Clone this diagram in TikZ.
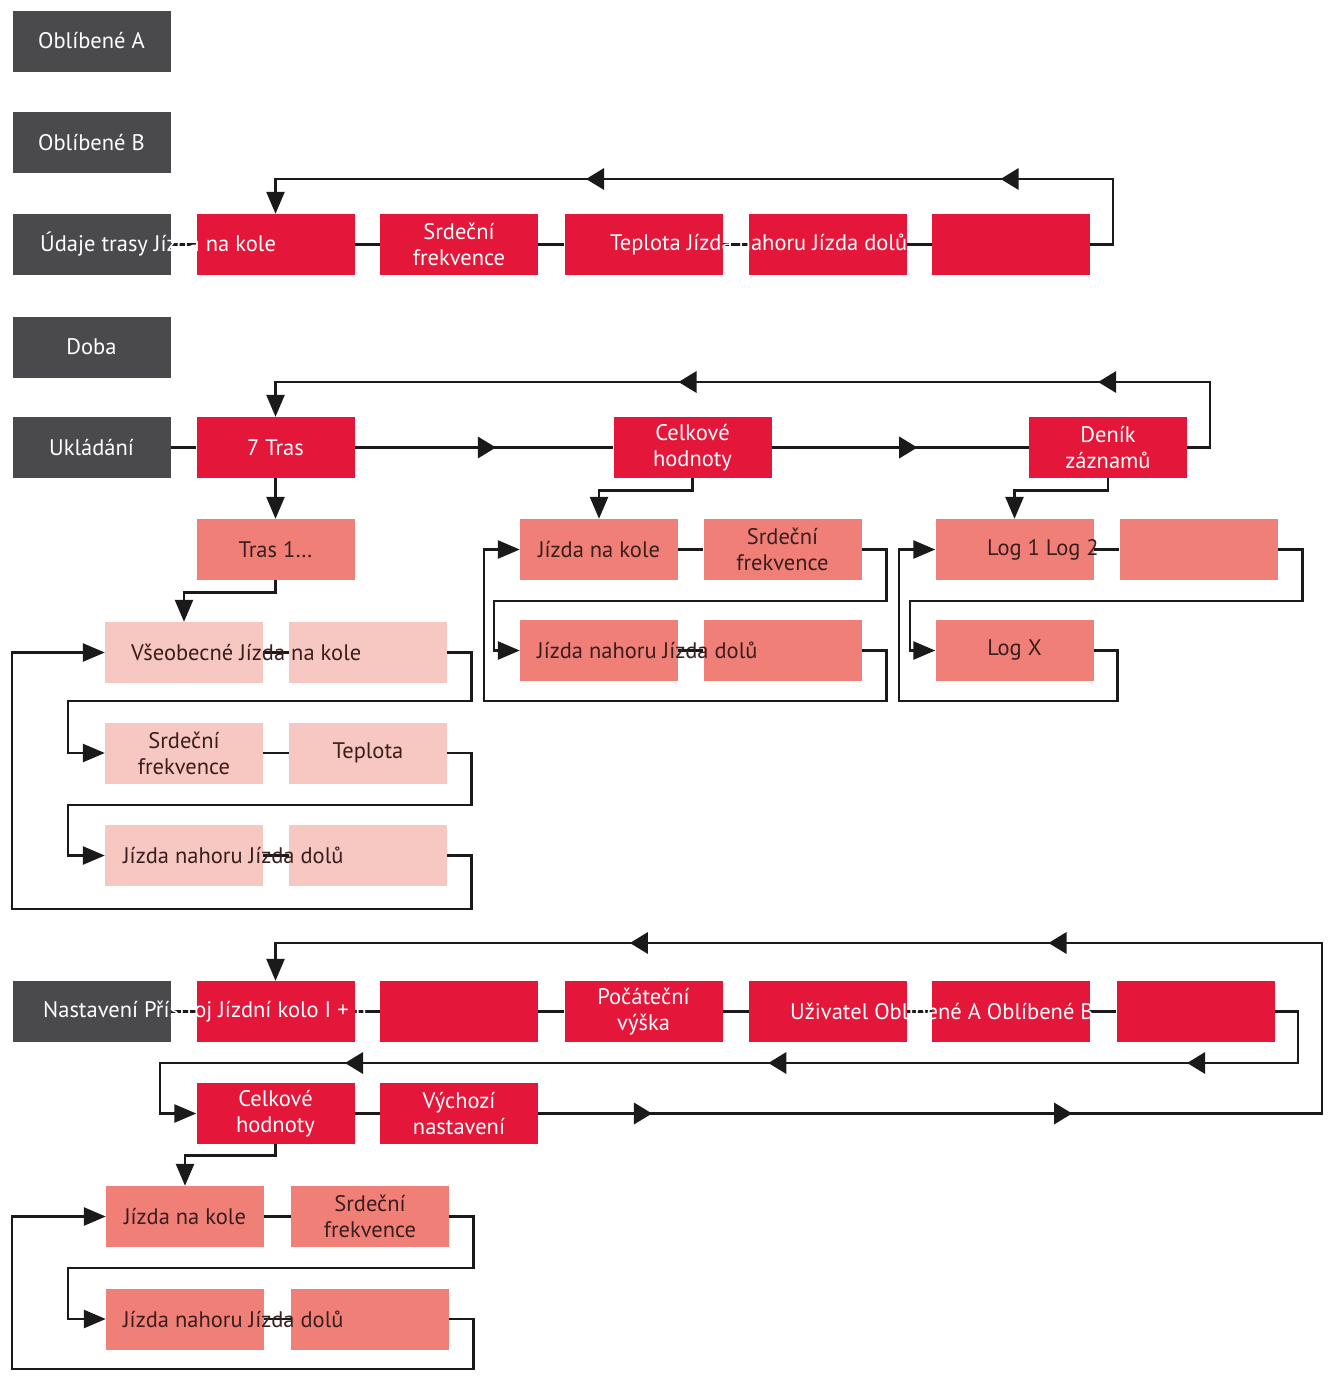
\documentclass[tikz,border=0pt]{standalone}
\usepackage{fontspec}
\setmainfont{PT Sans}
\usetikzlibrary{arrows.meta,shapes.geometric}
\definecolor{dk}{HTML}{4A4A4C}
\definecolor{rd}{HTML}{E4163A}
\definecolor{sal}{HTML}{EF7F77}
\definecolor{pk}{HTML}{F7C7C1}
\definecolor{txt}{HTML}{3A1E1E}
\definecolor{ln}{HTML}{1A1A1A}
\begin{document}
\begin{tikzpicture}[x=1pt,y=-1pt, font=\fontsize{22.5}{26}\selectfont,
 box/.style={minimum width=158pt, minimum height=61pt, inner sep=0pt, align=center},
 gbox/.style={box, fill=dk, text=white},
 rbox/.style={box, fill=rd, text=white},
 sbox/.style={box, fill=sal, text=txt},
 pbox/.style={box, fill=pk, text=txt},
 conn/.style={line width=2.6pt, draw=ln},
 tipend/.style={-{Triangle[length=22pt,width=18pt]}},
 fwd/.style={isosceles triangle, isosceles triangle stretches, fill=ln, inner sep=0pt, minimum width=22pt, minimum height=18pt, sloped, allow upside down, shape border rotate=0},
 over/.style={anchor=west, inner sep=0pt},
]
\useasboundingbox (0,0) rectangle (1331,1379);
\fill[white] (0,0) rectangle (1331,1379);

% gray column
\node[gbox] (ga) at (91.5,41) {Oblíbené A};
\node[gbox] (gb) at (91.5,142.5) {Oblíbené B};
\node[gbox] (gu) at (91.5,244.5) {};
\node[gbox] (gd) at (91.5,347) {Doba};
\node[gbox] (gk) at (91.5,447.5) {Ukládání};
\node[gbox] (gn) at (91.5,1011.5) {};

% row Udaje trasy
\node[rbox] (r1) at (275.5,244.5) {};
\node[rbox] (r2) at (459,244.5) {Srdeční\\frekvence};
\node[rbox] (r3) at (643.5,244.5) {};
\node[rbox] (r4) at (828,244.5) {};
\node[rbox] (r5) at (1011,244.5) {};

% row Ukladani
\node[rbox] (s7) at (275.5,447.5) {7 Tras};
\node[rbox] (ce) at (692.5,447.5) {Celkové\\hodnoty};
\node[rbox] (de) at (1108,447.5) {Deník\\záznamů};
\node[sbox] (t1) at (275.5,549.5) {Tras 1…};

% Tras subtree
\node[pbox] (v1) at (184,652.5) {};
\node[pbox] (v2) at (368,652.5) {};
\node[pbox] (p1) at (184,753) {Srdeční\\frekvence};
\node[pbox] (p2) at (368,753) {Teplota};
\node[pbox] (q1) at (184,855.5) {};
\node[pbox] (q2) at (368,855.5) {};

% Celkove subtree
\node[sbox] (cj) at (599,549.5) {Jízda na kole};
\node[sbox] (cs) at (782.5,549.5) {Srdeční\\frekvence};
\node[sbox] (cn) at (599,650.5) {};
\node[sbox] (cn2) at (782.5,650.5) {};

% Denik subtree
\node[sbox] (l1) at (1014.5,549.5) {};
\node[sbox] (l2) at (1198.5,549.5) {};
\node[sbox] (lx) at (1014.5,650.5) {Log X};

% Nastaveni row
\node[rbox] (n1) at (275.5,1011.5) {};
\node[rbox] (n2) at (459,1011.5) {};
\node[rbox] (n3) at (643.5,1011.5) {Počáteční\\výška};
\node[rbox] (n4) at (828,1011.5) {};
\node[rbox] (n5) at (1011,1011.5) {};
\node[rbox] (n6) at (1195.5,1011.5) {};
\node[rbox] (c2) at (275.5,1113.5) {Celkové\\hodnoty};
\node[rbox] (vy) at (459,1113.5) {Výchozí\\nastavení};

% bottom subtree
\node[sbox] (b1) at (185,1216.5) {Jízda na kole};
\node[sbox] (b2) at (370,1216.5) {Srdeční\\frekvence};
\node[sbox] (b3) at (185,1319) {};
\node[sbox] (b4) at (370,1319) {};

% ---- connectors ----
% Udaje trasy row
\draw[conn] (gu) -- (r1);
\draw[conn] (r1) -- (r2);
\draw[conn] (r2) -- (r3);
\draw[conn] (r3) -- (r4);
\draw[conn] (r4) -- (r5);
\draw[conn,tipend] (r5.east) -- (1113,244.5) -- (1113,179)
  -- node[fwd,pos=0.12]{} node[fwd,pos=0.615]{} (275.5,179) -- (r1.north);

% Ukladani row
\draw[conn] (gk) -- (s7);
\draw[conn] (s7) -- node[fwd,pos=0.5]{} (ce);
\draw[conn] (ce) -- node[fwd,pos=0.52]{} (de);
\draw[conn,tipend] (de.east) -- (1210,447.5) -- (1210,382)
  -- node[fwd,pos=0.107]{} node[fwd,pos=0.556]{} (275.5,382) -- (s7.north);
\draw[conn,tipend] (s7) -- (t1);
\draw[conn,tipend] (t1.south) -- ++(0,12) -| (v1.north);
\draw[conn,tipend] (ce.south) -- ++(0,12) -| (cj.north);
\draw[conn,tipend] (de.south) -- ++(0,12) -| (l1.north);

% Tras subtree
\draw[conn] (v1) -- (v2);
\draw[conn,tipend] (v2.east) -- ++(24,0) |- (68,701) |- (p1.west);
\draw[conn] (p1) -- (p2);
\draw[conn,tipend] (p2.east) -- ++(24,0) |- (68,805) |- (q1.west);
\draw[conn] (q1) -- (q2);
\draw[conn,tipend] (q2.east) -- ++(24,0) |- (12,909) |- (v1.west);

% Celkove subtree
\draw[conn] (cj) -- (cs);
\draw[conn,tipend] (cs.east) -- ++(25,0) |- (494,601) |- (cn.west);
\draw[conn] (cn) -- (cn2);
\draw[conn,tipend] (cn2.east) -- ++(25,0) |- (484,701) |- (cj.west);

% Denik subtree
\draw[conn] (l1) -- (l2);
\draw[conn,tipend] (l2.east) -- ++(25,0) |- (910,601) |- (lx.west);
\draw[conn,tipend] (lx.east) -- ++(24,0) |- (899,701) |- (l1.west);

% Nastaveni row
\draw[conn] (gn) -- (n1);
\draw[conn] (n1) -- (n2);
\draw[conn] (n2) -- (n3);
\draw[conn] (n3) -- (n4);
\draw[conn] (n4) -- (n5);
\draw[conn] (n5) -- (n6);
\draw[conn,tipend] (n6.east) -- (1298,1011.5) -- (1298,1063)
  -- node[fwd,pos=0.087]{} node[fwd,pos=0.455]{} node[fwd,pos=0.827]{} (160,1063)
  -- (160,1113.5) -- (c2.west);
\draw[conn] (c2) -- (vy);
\draw[conn,tipend] (vy.east) -- node[fwd,pos=0.13]{} node[fwd,pos=0.666]{} (1322,1113.5)
  -- (1322,943) -- node[fwd,pos=0.25]{} node[fwd,pos=0.65]{} (275.5,943) -- (n1.north);
\draw[conn,tipend] (c2.south) -- ++(0,11) -| (b1.north);

% bottom subtree
\draw[conn] (b1) -- (b2);
\draw[conn,tipend] (b2.east) -- ++(24,0) |- (68,1268) |- (b3.west);
\draw[conn] (b3) -- (b4);
\draw[conn,tipend] (b4.east) -- ++(24,0) |- (12,1369) |- (b1.west);

% ---- overflowing labels ----
\node[over,text=white] (tu) at (40,244.5) {Údaje trasy Jízda na kole};
\node[over,text=white] (tt) at (610,244.5) {Teplota Jízda nahoru Jízda dolů};
\node[over,text=txt] (tv) at (131,652.5) {Všeobecné Jízda na kole};
\node[over,text=txt] (tq) at (123,855.5) {Jízda nahoru Jízda dolů};
\node[over,text=txt] (tc) at (537,650.5) {Jízda nahoru Jízda dolů};
\node[over,text=txt] (tl) at (987,549.5) {Log 1 Log 2};
\node[over,text=white] (tn) at (43,1011.5) {Nastavení Přístroj Jízdní kolo I + II};
\node[over,text=white] (tz) at (790,1011.5) {Uživatel Oblíbené A Oblíbené B};
\node[over,text=txt] (tb) at (123,1319) {Jízda nahoru Jízda dolů};
\end{tikzpicture}
\end{document}
